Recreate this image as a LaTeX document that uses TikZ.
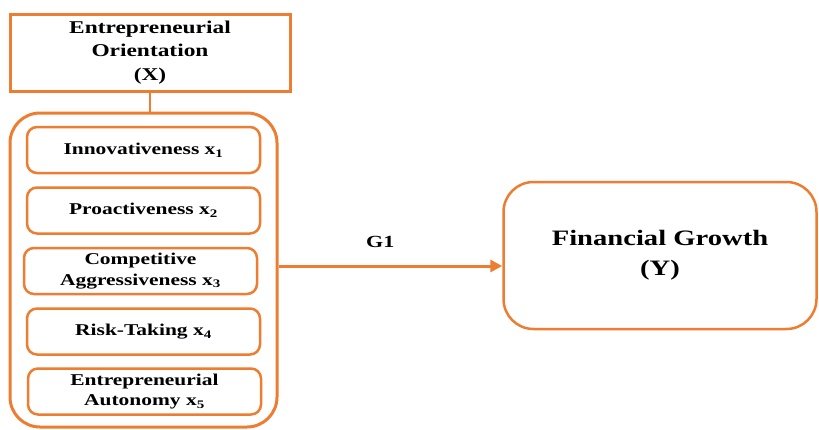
\documentclass[tikz,border=0pt]{standalone}
\usepackage{fontspec}
\setmainfont[FakeStretch=1.3]{Liberation Serif}
\usepackage{tikz}
\usetikzlibrary{arrows.meta}
\definecolor{eoorange}{RGB}{237,125,49}

\begin{document}
\begin{tikzpicture}[x=1pt,y=-1pt,
  every node/.style={font=\bfseries,align=center,inner sep=0pt},
  headbox/.style={draw=eoorange,line width=3pt,minimum width=280pt,minimum height=77pt,font=\fontsize{18}{23.5}\selectfont\bfseries},
  groupbox/.style={draw=eoorange,line width=3pt,rounded corners=30pt,minimum width=267pt,minimum height=314pt},
  dimbox/.style={draw=eoorange,line width=2.5pt,rounded corners=10pt,minimum width=233pt,minimum height=46pt,font=\fontsize{16.5}{20.5}\selectfont\bfseries},
  resultbox/.style={draw=eoorange,line width=2.5pt,rounded corners=30pt,minimum width=313pt,minimum height=147pt,font=\fontsize{22}{30}\selectfont\bfseries},
  link/.style={draw=eoorange,line width=3pt}]
\useasboundingbox (0,0) rectangle (819,429);
% independent variable
\node[headbox] (eo) at (150,52.5) {Entrepreneurial\\Orientation\\(X)};
\node[groupbox] (grp) at (143.5,270) {};
\node[dimbox] (x1) at (143.5,150) {Innovativeness x\textsubscript{1}};
\node[dimbox] (x2) at (143.5,210.5) {Proactiveness x\textsubscript{2}};
\node[dimbox] (x3) at (140.5,271) {Competitive\\Aggressiveness x\textsubscript{3}};
\node[dimbox] (x4) at (143.5,331.5) {Risk-Taking x\textsubscript{4}};
\node[dimbox] (x5) at (144.5,391.5) {Entrepreneurial\\Autonomy x\textsubscript{5}};
% dependent variable
\node[resultbox] (fg) at (660,255.5) {Financial Growth\\(Y)};
\coordinate (g1y) at (0,266);
\draw[link,line width=2.5pt] (eo.south) -- (eo.south |- grp.north);
\draw[link,-{Triangle[length=12pt,width=12pt]}] (grp.east |- g1y) -- (fg.west |- g1y)
  node[pos=0.455,above=17pt,font=\fontsize{17}{20}\selectfont\bfseries] (g1) {G1};
\end{tikzpicture}
\end{document}
